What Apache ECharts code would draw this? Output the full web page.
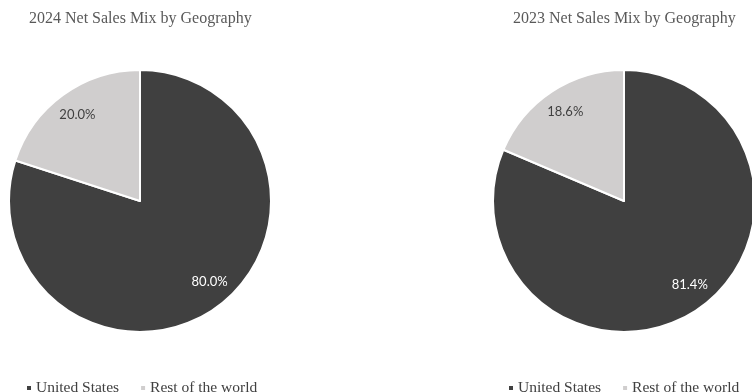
<!DOCTYPE html>
<html>
<head>
<meta charset="utf-8">
<script src="https://cdn.jsdelivr.net/npm/echarts@6/dist/echarts.min.js"></script>
<style>
  html, body { margin: 0; padding: 0; background: #ffffff; }
  #chart { width: 752px; height: 392px; }
</style>
</head>
<body>
<div id="chart"></div>
<script>
// Net sales share by region, per fiscal year (percent)
const regions = ['United States', 'Rest of the world'];
const share2024 = [80.0, 20.0];
const share2023 = [81.4, 18.6];
const chartTitles = ['2024 Net Sales Mix by Geography', '2023 Net Sales Mix by Geography'];

const regionColors = ['#404040', '#d0cece'];
const labelColors = ['#ffffff', '#404040'];
const serif = '"Liberation Serif", "Times New Roman", serif';

// Visible pie without labels
function piePie(values, cx) {
  return {
    type: 'pie',
    center: [cx, 201],
    radius: [0, 131],
    startAngle: 90,
    clockwise: true,
    silent: true,
    label: { show: false },
    labelLine: { show: false },
    itemStyle: { borderColor: '#ffffff', borderWidth: 2 },
    data: regions.map((name, i) => ({
      name, value: values[i], itemStyle: { color: regionColors[i] }
    }))
  };
}

// Transparent ring that only carries the percentage labels
function labelRing(values, cx) {
  return {
    type: 'pie',
    center: [cx, 201],
    radius: [76, 131],
    startAngle: 90,
    clockwise: true,
    silent: true,
    legendHoverLink: false,
    itemStyle: { color: 'rgba(0,0,0,0)', borderWidth: 0 },
    label: {
      show: true,
      position: 'inside',
      fontFamily: 'Lato, "Open Sans", sans-serif',
      fontSize: 13,
      formatter: p => p.value.toFixed(1) + '%'
    },
    labelLine: { show: false },
    data: regions.map((name, i) => ({
      name,
      value: values[i],
      label: { color: labelColors[i], offset: i === 0 ? [7, -5] : [0, 0] }
    }))
  };
}

function legendAt(left) {
  return {
    left,
    top: 380,
    padding: 0,
    icon: 'rect',
    itemWidth: 6,
    itemHeight: 6,
    itemGap: 20,
    selectedMode: false,
    data: regions.map((name, i) => ({ name, itemStyle: { color: regionColors[i] } })),
    textStyle: { fontFamily: serif, fontSize: 15.5, color: '#404040', padding: [0, 0, 0, -1] }
  };
}

const chart = echarts.init(document.getElementById('chart'), null, { renderer: 'canvas' });
chart.setOption({
  animation: false,
  backgroundColor: '#ffffff',
  color: regionColors,
  title: [
    { text: chartTitles[0], left: 29, top: 11, padding: 0,
      textStyle: { fontFamily: serif, fontSize: 16, fontWeight: 'normal', color: '#595959' } },
    { text: chartTitles[1], left: 513, top: 11, padding: 0,
      textStyle: { fontFamily: serif, fontSize: 16, fontWeight: 'normal', color: '#595959' } }
  ],
  legend: [legendAt(25), legendAt(507)],
  series: [
    piePie(share2024, 140),
    labelRing(share2024, 140),
    piePie(share2023, 624),
    labelRing(share2023, 624)
  ]
});
</script>
</body>
</html>
